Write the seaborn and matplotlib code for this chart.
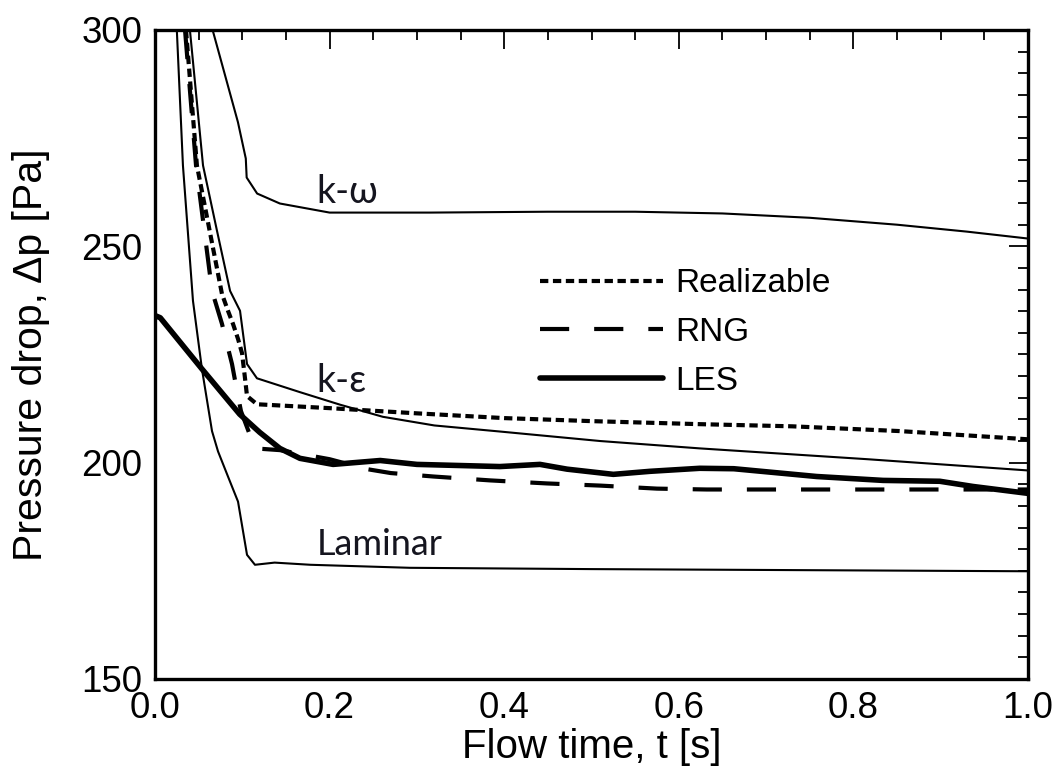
import numpy as np
import pandas as pd
import matplotlib
matplotlib.use("Agg")
import matplotlib.pyplot as plt
import seaborn as sns
from matplotlib.ticker import MultipleLocator, FormatStrFormatter

# ---- data ----
lam_t = [0.025, 0.032, 0.0435, 0.0538, 0.0653, 0.0722, 0.0836, 0.0951, 0.1054, 0.1145, 0.137, 0.178, 0.292, 0.5, 0.7, 1.0]
lam_p = [300, 268.7, 237.4, 221.6, 207.3, 202.6, 196.8, 191.0, 178.7, 176.4, 176.9, 176.4, 175.7, 175.4, 175.2, 174.9]

ke_t = [0.040, 0.055, 0.071, 0.086, 0.0974, 0.1054, 0.1168, 0.166, 0.212, 0.261, 0.32, 0.395, 0.51, 0.624, 0.816, 1.0]
ke_p = [300, 268.7, 253.6, 239.7, 235.1, 222.8, 219.5, 216.3, 213.4, 210.6, 208.6, 207.2, 205.0, 203.3, 200.8, 198.2]

kw_t = [0.066, 0.095, 0.104, 0.105, 0.117, 0.143, 0.2, 0.315, 0.45, 0.55, 0.65, 0.75, 0.85, 0.93, 1.0]
kw_p = [300, 278.7, 270.3, 265.9, 262.2, 259.9, 257.8, 257.8, 258.0, 258.0, 257.6, 256.6, 255.0, 253.4, 251.8]

real_t = [0.0355, 0.048, 0.0767, 0.0836, 0.0893, 0.0951, 0.0997, 0.1031, 0.1054, 0.1168, 0.2, 0.3, 0.4, 0.5, 0.624, 0.73, 0.853, 1.0]
real_p = [300, 268.7, 239.0, 235.1, 232.1, 228.6, 225.3, 219.5, 215.4, 213.5, 212.6, 211.4, 210.3, 209.6, 208.9, 208.4, 207.3, 205.4]

rng_t = [0.0344, 0.047, 0.0653, 0.0767, 0.0882, 0.095, 0.0985, 0.1145, 0.143, 0.2, 0.243, 0.27, 0.319, 0.384, 0.449, 0.51, 0.575, 0.632, 0.8, 1.0]
rng_p = [300, 268.7, 239.7, 232.1, 222.8, 215.4, 211.9, 203.3, 202.9, 200.8, 198.5, 197.6, 196.8, 195.9, 195.2, 194.7, 194.0, 193.8, 193.8, 193.8]

les_t = [0.0, 0.006, 0.054, 0.097, 0.12, 0.143, 0.166, 0.204, 0.258, 0.3, 0.395, 0.441, 0.472, 0.525, 0.567, 0.624, 0.663, 0.758, 0.834, 0.899, 0.937, 1.0]
les_p = [234.0, 233.5, 221.6, 211.2, 207.0, 203.3, 201.0, 199.6, 200.5, 199.6, 199.1, 199.6, 198.5, 197.3, 198.0, 198.7, 198.6, 196.8, 195.9, 195.7, 194.5, 192.9]

legend_labels = ["Realizable", "RNG", "LES"]
curve_labels = ["k-\u03c9", "k-\u03b5", "Laminar"]
x_label = "Flow time, t [s]"
y_label = "Pressure drop, \u0394p [Pa]"

# ---- style ----
sns.set_theme(style="white")
plt.rcParams["font.family"] = ["Liberation Sans", "DejaVu Sans"]
plt.rcParams["text.color"] = "black"

fig = plt.figure(figsize=(10.6, 7.73), dpi=100)
ax = fig.add_axes([155 / 1060, 1 - 679 / 773, 873 / 1060, 649 / 773])

thin = 1.5
common = dict(ax=ax, color="black", estimator=None, sort=False)

sns.lineplot(x=lam_t, y=lam_p, linewidth=thin, **common)
sns.lineplot(x=ke_t, y=ke_p, linewidth=thin, **common)
sns.lineplot(x=kw_t, y=kw_p, linewidth=thin, **common)
sns.lineplot(x=real_t, y=real_p, linewidth=3.0, linestyle=(0, (2.0, 1.1)),
             label=legend_labels[0], **common)
sns.lineplot(x=rng_t, y=rng_p, linewidth=3.0, linestyle=(0, (7.0, 6.0)),
             label=legend_labels[1], **common)
sns.lineplot(x=les_t, y=les_p, linewidth=4.0, label=legend_labels[2], **common)

ax.set_xlim(0, 1.0)
ax.set_ylim(150, 300)
ax.xaxis.set_major_locator(MultipleLocator(0.2))
ax.xaxis.set_minor_locator(MultipleLocator(0.05))
ax.yaxis.set_major_locator(MultipleLocator(50))
ax.yaxis.set_minor_locator(MultipleLocator(5))
ax.xaxis.set_major_formatter(FormatStrFormatter("%.1f"))

ax.tick_params(which="both", direction="in", top=True, right=True, colors="black",
               labelsize=26.5, width=1.3)
ax.tick_params(which="major", length=14, pad=9)
ax.tick_params(which="minor", length=7.5)
for s in ax.spines.values():
    s.set_color("black")
    s.set_linewidth(2.4)

ax.set_xlabel(x_label, fontsize=29, color="black")
ax.set_ylabel(y_label, fontsize=29.5, color="black")
ax.xaxis.set_label_coords(0.5, -0.076)
ax.yaxis.set_label_coords(-0.12, 0.5)

leg = ax.legend(loc="upper left", bbox_to_anchor=(0.441, 0.633), frameon=False,
                fontsize=24, handlelength=3.7, handletextpad=0.36,
                labelspacing=0.53, borderpad=0, borderaxespad=0)
for h in leg.get_lines():
    h.set_color("black")
for t in leg.get_texts():
    t.set_color("black")

lab_font = ["Lato", "DejaVu Sans"]
lab_col = "#15151f"
ax.text(0.185, 262.5, curve_labels[0], fontsize=27, family=lab_font, color=lab_col, va="center")
ax.text(0.185, 218.8, curve_labels[1], fontsize=27, family=lab_font, color=lab_col, va="center")
ax.text(0.185, 181.0, curve_labels[2], fontsize=26, family=lab_font, color=lab_col, va="center")

fig.savefig("out.png", dpi=100)
